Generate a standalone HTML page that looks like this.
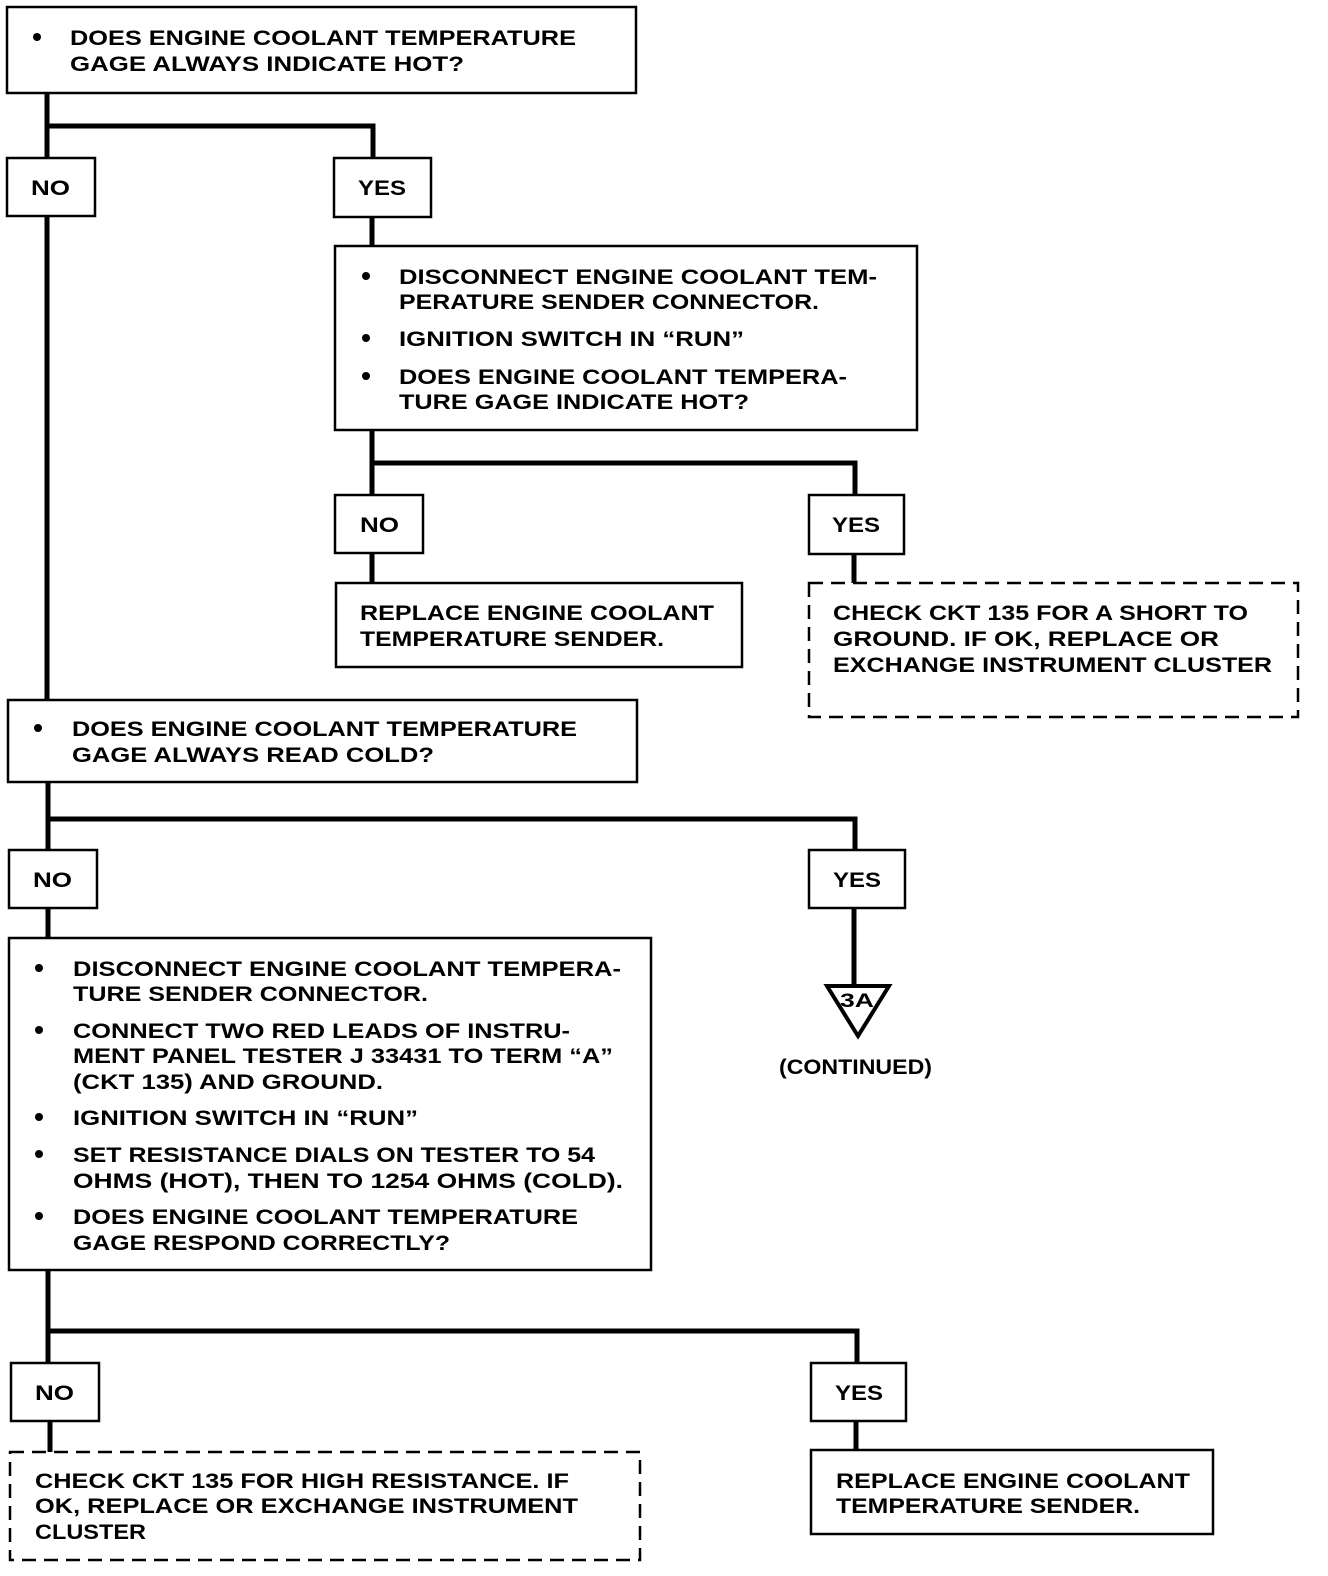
<!DOCTYPE html>
<html><head><style>html,body{margin:0;padding:0;background:#fff}svg{display:block}
text{font-family:"Liberation Sans",sans-serif;font-weight:bold;font-size:21px;fill:#000}</style></head>
<body>
<svg width="1328" height="1576" viewBox="0 0 1328 1576" xmlns="http://www.w3.org/2000/svg">
<g fill="none" stroke="#000" stroke-width="5">
<path d="M47 93V700M47 126H373V158M372 217V246M372 430V495M372 463H855V495M372 553V583M854 554V583"/>
<path d="M48 782V850M48 819H855V850M854 908V985M48 908V938M48 1270V1363M48 1331H857V1363M50 1421V1452M856 1421V1450"/>
</g>
<g fill="#fff" stroke="#000" stroke-width="2.5">
<rect x="7" y="7" width="629" height="86"/>
<rect x="7" y="158" width="88" height="58"/>
<rect x="334" y="158" width="97" height="59"/>
<rect x="335" y="246" width="582" height="184"/>
<rect x="335" y="495" width="88" height="58"/>
<rect x="809" y="495" width="95" height="59"/>
<rect x="336" y="583" width="406" height="84"/>
<rect x="809" y="583" width="489" height="134" stroke-dasharray="14,8"/>
<rect x="8" y="700" width="629" height="82"/>
<rect x="9" y="850" width="88" height="58"/>
<rect x="809" y="850" width="96" height="58"/>
<rect x="9" y="938" width="642" height="332"/>
<rect x="11" y="1363" width="88" height="58"/>
<rect x="811" y="1363" width="95" height="58"/>
<rect x="10" y="1452" width="630" height="108" stroke-dasharray="14,8"/>
<rect x="811" y="1450" width="402" height="84"/>
</g>
<path d="M827 986H889L858 1036Z" fill="#fff" stroke="#000" stroke-width="4"/>
<g fill="#000">
<circle cx="37" cy="37" r="4"/>
<circle cx="366" cy="276" r="4"/><circle cx="366" cy="338" r="4"/><circle cx="366" cy="376" r="4"/>
<circle cx="38" cy="728" r="4"/>
<circle cx="39" cy="968" r="4"/><circle cx="39" cy="1030" r="4"/><circle cx="39" cy="1117" r="4"/><circle cx="39" cy="1154" r="4"/><circle cx="39" cy="1216" r="4"/>
</g>
<g>
<text x="70" y="45" textLength="506" lengthAdjust="spacingAndGlyphs">DOES ENGINE COOLANT TEMPERATURE</text>
<text x="70" y="71" textLength="394" lengthAdjust="spacingAndGlyphs">GAGE ALWAYS INDICATE HOT?</text>
<text x="31" y="195" textLength="39" lengthAdjust="spacingAndGlyphs">NO</text>
<text x="358" y="195" textLength="48" lengthAdjust="spacingAndGlyphs">YES</text>
<text x="399" y="284" textLength="478" lengthAdjust="spacingAndGlyphs">DISCONNECT ENGINE COOLANT TEM-</text>
<text x="399" y="309" textLength="420" lengthAdjust="spacingAndGlyphs">PERATURE SENDER CONNECTOR.</text>
<text x="399" y="346" textLength="345" lengthAdjust="spacingAndGlyphs">IGNITION SWITCH IN “RUN”</text>
<text x="399" y="384" textLength="448" lengthAdjust="spacingAndGlyphs">DOES ENGINE COOLANT TEMPERA-</text>
<text x="399" y="409" textLength="350" lengthAdjust="spacingAndGlyphs">TURE GAGE INDICATE HOT?</text>
<text x="360" y="532" textLength="39" lengthAdjust="spacingAndGlyphs">NO</text>
<text x="832" y="532" textLength="48" lengthAdjust="spacingAndGlyphs">YES</text>
<text x="360" y="620" textLength="354" lengthAdjust="spacingAndGlyphs">REPLACE ENGINE COOLANT</text>
<text x="360" y="646" textLength="304" lengthAdjust="spacingAndGlyphs">TEMPERATURE SENDER.</text>
<text x="833" y="620" textLength="415" lengthAdjust="spacingAndGlyphs">CHECK CKT 135 FOR A SHORT TO</text>
<text x="833" y="646" textLength="386" lengthAdjust="spacingAndGlyphs">GROUND.  IF OK, REPLACE OR</text>
<text x="833" y="672" textLength="439" lengthAdjust="spacingAndGlyphs">EXCHANGE INSTRUMENT CLUSTER</text>
<text x="72" y="736" textLength="505" lengthAdjust="spacingAndGlyphs">DOES ENGINE COOLANT TEMPERATURE</text>
<text x="72" y="762" textLength="362" lengthAdjust="spacingAndGlyphs">GAGE ALWAYS READ COLD?</text>
<text x="33" y="887" textLength="39" lengthAdjust="spacingAndGlyphs">NO</text>
<text x="833" y="887" textLength="48" lengthAdjust="spacingAndGlyphs">YES</text>
<text x="840" y="1007" textLength="34" lengthAdjust="spacingAndGlyphs" style="font-size:19px">3A</text>
<text x="779" y="1074" textLength="153" lengthAdjust="spacingAndGlyphs">(CONTINUED)</text>
<text x="73" y="976" textLength="548" lengthAdjust="spacingAndGlyphs">DISCONNECT ENGINE COOLANT TEMPERA-</text>
<text x="73" y="1001" textLength="355" lengthAdjust="spacingAndGlyphs">TURE SENDER CONNECTOR.</text>
<text x="73" y="1038" textLength="497" lengthAdjust="spacingAndGlyphs">CONNECT TWO RED LEADS OF INSTRU-</text>
<text x="73" y="1063" textLength="540" lengthAdjust="spacingAndGlyphs">MENT PANEL TESTER J 33431 TO TERM “A”</text>
<text x="73" y="1089" textLength="310" lengthAdjust="spacingAndGlyphs">(CKT 135) AND GROUND.</text>
<text x="73" y="1125" textLength="345" lengthAdjust="spacingAndGlyphs">IGNITION SWITCH IN “RUN”</text>
<text x="73" y="1162" textLength="522" lengthAdjust="spacingAndGlyphs">SET RESISTANCE DIALS ON TESTER TO 54</text>
<text x="73" y="1188" textLength="550" lengthAdjust="spacingAndGlyphs">OHMS (HOT), THEN TO 1254 OHMS (COLD).</text>
<text x="73" y="1224" textLength="505" lengthAdjust="spacingAndGlyphs">DOES ENGINE COOLANT TEMPERATURE</text>
<text x="73" y="1250" textLength="377" lengthAdjust="spacingAndGlyphs">GAGE RESPOND CORRECTLY?</text>
<text x="35" y="1400" textLength="39" lengthAdjust="spacingAndGlyphs">NO</text>
<text x="835" y="1400" textLength="48" lengthAdjust="spacingAndGlyphs">YES</text>
<text x="35" y="1488" textLength="534" lengthAdjust="spacingAndGlyphs">CHECK CKT 135 FOR HIGH RESISTANCE. IF</text>
<text x="35" y="1513" textLength="543" lengthAdjust="spacingAndGlyphs">OK, REPLACE OR EXCHANGE INSTRUMENT</text>
<text x="35" y="1539" textLength="111" lengthAdjust="spacingAndGlyphs">CLUSTER</text>
<text x="836" y="1488" textLength="354" lengthAdjust="spacingAndGlyphs">REPLACE ENGINE COOLANT</text>
<text x="836" y="1513" textLength="304" lengthAdjust="spacingAndGlyphs">TEMPERATURE SENDER.</text>
</g>
</svg>
</body></html>
